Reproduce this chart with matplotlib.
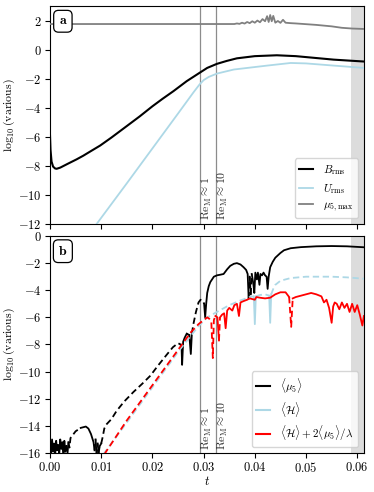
import numpy as np
import matplotlib
matplotlib.use("Agg")
import matplotlib.pyplot as plt

plt.rcParams['font.family'] = 'serif'
plt.rcParams['font.serif'] = ['cmr10', 'DejaVu Serif']
plt.rcParams['mathtext.fontset'] = 'cm'
plt.rcParams['axes.formatter.use_mathtext'] = True
plt.rcParams['axes.unicode_minus'] = True
plt.rcParams['font.size'] = 9

# ---------------- Panel a data ----------------
t_B = [0.0, 0.0001, 0.0003, 0.0006, 0.0010, 0.0013, 0.0020, 0.0035, 0.0052, 0.0065, 0.0080,
       0.0098, 0.0120, 0.0150, 0.0175, 0.0200, 0.0220, 0.0241, 0.0267, 0.0292, 0.0307,
       0.0326, 0.0345, 0.0365, 0.0400, 0.0443, 0.0480, 0.0520, 0.0554, 0.0590, 0.0613]
logB = [-5.9, -6.9, -7.7, -8.05, -8.18, -8.2, -8.12, -7.85, -7.55, -7.3, -6.98,
        -6.6, -6.05, -5.26, -4.6, -3.9, -3.38, -2.86, -2.17, -1.6, -1.26,
        -0.98, -0.78, -0.6, -0.45, -0.39, -0.45, -0.58, -0.69, -0.77, -0.82]

t_U = [0.0091, 0.0150, 0.0200, 0.0250, 0.0280, 0.0292, 0.0300, 0.0310, 0.0326,
       0.0359, 0.0424, 0.0470, 0.0500, 0.0554, 0.0613]
logU = [-12.0, -9.2, -6.8, -4.4, -2.95, -2.4, -2.1, -1.88, -1.65,
        -1.37, -1.1, -0.92, -0.95, -1.1, -1.26]

t_M = [0.0, 0.0360, 0.0365, 0.0370, 0.0375, 0.0380, 0.0385, 0.0390, 0.0395, 0.0400,
       0.0405, 0.0410, 0.0415, 0.0420, 0.0424, 0.0427, 0.0430, 0.0433, 0.0436, 0.0440,
       0.0445, 0.0450, 0.0455, 0.0460, 0.0470, 0.0480, 0.0500, 0.0520, 0.0550,
       0.0570, 0.0590, 0.0613]
logM = [1.76, 1.76, 1.80, 1.77, 1.85, 1.79, 1.90, 1.82, 1.95, 1.85,
        2.00, 1.88, 2.10, 1.95, 2.30, 1.90, 2.38, 1.95, 2.32, 1.85,
        1.97, 1.84, 2.05, 1.85, 1.82, 1.80, 1.75, 1.70, 1.60,
        1.50, 1.45, 1.42]

# ---------------- Panel b data (log10|x|, sign) ----------------
t_mu5 = [0.0, 0.0002, 0.0004, 0.0006, 0.0008, 0.0010, 0.0012, 0.0014, 0.0016, 0.0018,
         0.0020, 0.0022, 0.0024, 0.0026, 0.0028, 0.0030, 0.0032, 0.0034, 0.0036, 0.0038,
         0.0040, 0.0042, 0.0050, 0.0060, 0.0070, 0.0075, 0.0080, 0.0085, 0.0087, 0.0089,
         0.0091, 0.0093, 0.0095, 0.0097, 0.0100, 0.0103, 0.0106, 0.0110, 0.0120, 0.0130,
         0.0145, 0.0163, 0.0180, 0.0196, 0.0210, 0.0228, 0.0240, 0.0250, 0.0255, 0.0257,
         0.0258, 0.0260, 0.0263, 0.0267, 0.0272, 0.0275, 0.0277, 0.0280, 0.0285, 0.0290,
         0.0294, 0.0298, 0.0301, 0.0303, 0.0305, 0.0307, 0.0310, 0.0313, 0.0320, 0.0326,
         0.0333, 0.0339, 0.0346, 0.0352, 0.0359, 0.0365, 0.0372, 0.0378, 0.0383, 0.0386,
         0.0388, 0.0390, 0.0392, 0.0394, 0.0397, 0.0399, 0.0401, 0.0404, 0.0406, 0.0409,
         0.0411, 0.0414, 0.0417, 0.0420, 0.0423, 0.0425, 0.0427, 0.0430, 0.0435, 0.0440,
         0.0450, 0.0457, 0.0470, 0.0490, 0.0520, 0.0550, 0.0580, 0.0613]
log_mu5 = [-15.2, -16.1, -15.0, -15.9, -15.3, -16.2, -15.1, -15.8, -15.4, -16.1,
           -15.0, -15.7, -15.2, -16.2, -15.1, -15.9, -15.3, -16.1, -15.2, -15.6,
           -14.9, -14.8, -14.4, -14.15, -14.05, -14.2, -14.6, -15.2, -15.8, -15.0,
           -16.2, -15.3, -16.0, -15.5, -15.3, -14.8, -14.2, -13.9, -13.5, -12.9,
           -12.2, -11.5, -10.9, -10.3, -9.6, -8.75, -8.2, -7.9, -8.0, -8.3,
           -9.5, -7.8, -7.5, -7.2, -7.3, -8.7, -7.2, -6.5, -5.6, -4.9,
           -4.7, -4.75, -5.0, -6.0, -5.0, -4.2, -3.7, -3.4, -3.0, -2.9,
           -2.85, -2.8, -2.45, -2.2, -2.05, -2.0, -2.1, -2.3, -2.5, -2.8,
           -4.6, -3.0, -4.3, -2.8, -3.5, -4.2, -2.7, -3.2, -2.7, -3.6,
           -2.8, -2.9, -2.7, -2.9, -3.0, -3.9, -3.0, -2.3, -1.9, -1.6,
           -1.25, -1.05, -0.9, -0.82, -0.76, -0.74, -0.76, -0.83]
sign_mu5 = [1, 1, 1, 1, 1, 1, 1, 1, 1, 1,
            1, 1, 1, 1, 1, -1, -1, 1, -1, -1,
            -1, -1, -1, 1, 1, 1, 1, 1, -1, 1,
            -1, 1, -1, 1, -1, -1, -1, -1, -1, -1,
            -1, -1, -1, -1, -1, -1, -1, -1, -1, 1,
            1, 1, 1, -1, 1, 1, -1, -1, -1, -1,
            -1, -1, 1, 1, 1, 1, 1, 1, 1, 1,
            1, 1, 1, 1, 1, 1, 1, 1, 1, 1,
            -1, 1, -1, 1, 1, 1, 1, 1, 1, 1,
            1, 1, 1, 1, 1, 1, 1, 1, 1, 1,
            1, 1, 1, 1, 1, 1, 1, 1]

t_H = [0.0104, 0.0150, 0.0200, 0.0250, 0.0275, 0.0290, 0.0307, 0.0326, 0.0350, 0.0372,
       0.0390, 0.0398, 0.0400, 0.0402, 0.0410, 0.0420, 0.0428, 0.0430, 0.0432, 0.0436,
       0.0440, 0.0450, 0.0470, 0.0500, 0.0550, 0.0580, 0.0613]
log_H = [-16.1, -13.75, -11.15, -8.55, -7.35, -6.65, -6.0, -5.6, -5.1, -4.75,
         -4.5, -4.45, -6.5, -4.45, -4.35, -4.3, -4.4, -6.4, -4.3, -3.9,
         -3.6, -3.3, -3.1, -3.0, -3.0, -3.05, -3.15]
sign_H = [-1, -1, -1, -1, -1, -1, -1, -1, -1, -1,
          -1, 1, 1, -1, -1, -1, 1, 1, -1, -1,
          -1, -1, -1, -1, -1, -1, -1]

t_R = [0.0106, 0.0150, 0.0200, 0.0250, 0.0275, 0.0290, 0.0300, 0.0307, 0.0311, 0.0315,
       0.0318, 0.0320, 0.0323, 0.0327, 0.0330, 0.0332, 0.0336, 0.0340, 0.0343, 0.0346,
       0.0350, 0.0356, 0.0360, 0.0365, 0.0369, 0.0372, 0.0378, 0.0385, 0.0390, 0.0395,
       0.0400, 0.0403, 0.0410, 0.0420, 0.0430, 0.0440, 0.0450, 0.0460, 0.0467, 0.0471,
       0.0474, 0.0480, 0.0490, 0.0500, 0.0510, 0.0520, 0.0530, 0.0535, 0.0540, 0.0545,
       0.0550, 0.0553, 0.0556, 0.0560, 0.0565, 0.0570, 0.0575, 0.0580, 0.0585, 0.0590,
       0.0595, 0.0600, 0.0605, 0.0610, 0.0613]
log_R = [-16.1, -13.6, -11.0, -8.4, -7.1, -6.5, -6.2, -6.0, -6.1, -6.3,
         -9.0, -6.2, -5.9, -6.0, -7.7, -6.0, -5.8, -5.7, -6.8, -5.5,
         -5.3, -5.5, -5.1, -5.0, -5.9, -4.9, -4.8, -4.7, -4.6, -4.65,
         -4.7, -4.5, -4.55, -4.6, -4.55, -4.3, -4.15, -4.15, -4.5, -6.7,
         -4.6, -4.5, -4.4, -4.3, -4.2, -4.3, -4.45, -4.9, -4.7, -5.3,
         -6.4, -5.2, -4.9, -5.0, -5.4, -4.9, -5.3, -5.0, -5.6, -5.0,
         -5.6, -5.1, -5.8, -6.6, -5.9]
sign_R = [-1, -1, -1, -1, -1, -1, -1, -1, -1, -1,
          -1, -1, 1, 1, -1, 1, 1, 1, 1, 1,
          1, 1, 1, 1, 1, 1, 1, 1, 1, 1,
          1, 1, 1, 1, 1, 1, 1, 1, -1, -1,
          1, 1, 1, 1, 1, 1, 1, 1, 1, 1,
          1, 1, 1, 1, 1, 1, 1, 1, 1, 1,
          1, 1, 1, 1, 1]

t_ReM = [0.0292, 0.0324]
ReM_labels = [r'$\mathrm{Re}_\mathrm{M}\approx 1$', r'$\mathrm{Re}_\mathrm{M}\approx 10$']
t_shade = 0.0587
xticks = [0.0, 0.01, 0.02, 0.03, 0.04, 0.05, 0.06]


def signed_plot(ax, t, v, s, color, lw):
    t = np.asarray(t); v = np.asarray(v); s = np.asarray(s)
    n = len(t)
    i = 0
    while i < n - 1:
        j = i
        while j + 1 < n - 1 and s[j + 1] == s[i]:
            j += 1
        seg = slice(i, j + 2)
        ls = '-' if s[i] > 0 else (0, (3.5, 2))
        ax.plot(t[seg], v[seg], color=color, lw=lw, ls=ls, zorder=3)
        i = j + 1


fig = plt.figure(figsize=(3.74, 4.92), dpi=100)
ax1 = fig.add_axes([0.1337, 0.5447, 0.8393, 0.4431])
ax2 = fig.add_axes([0.1337, 0.0793, 0.8393, 0.4410])

for ax in (ax1, ax2):
    ax.axvspan(t_shade, 0.0613, color='#dcdcdc', lw=0, zorder=0)
    for tv in t_ReM:
        ax.axvline(tv, color='#8c8c8c', lw=0.9, zorder=1)
    ax.set_xlim(0, 0.0613)
    ax.set_xticks(xticks)
    ax.set_ylabel(r'$\log_{10}(\mathrm{various})$', fontsize=8.5)
    ax.yaxis.set_label_coords(-0.105, 0.5)
    ax.tick_params(labelsize=9, length=3.5, pad=2.5)

leg_kw = dict(loc='lower right', fontsize=8, handlelength=1.3, handletextpad=0.9,
              borderaxespad=0.5, labelspacing=0.45)

# Panel a
ax1.plot(t_B, logB, color='black', lw=1.5, label=r'$B_\mathrm{rms}$', zorder=3)
ax1.plot(t_U, logU, color='lightblue', lw=1.3, label=r'$U_\mathrm{rms}$', zorder=3)
ax1.plot(t_M, logM, color='gray', lw=1.3, label=r'$\mu_{5,\mathrm{max}}$', zorder=3)
ax1.set_ylim(-12, 3)
ax1.set_yticks([-12, -10, -8, -6, -4, -2, 0, 2])
ax1.tick_params(labelbottom=False)
ax1.legend(**leg_kw)
ax1.text(0.041, 0.93, r'$\mathbf{a}$', transform=ax1.transAxes, fontsize=10,
         ha='center', va='center', zorder=5,
         bbox=dict(boxstyle='round,pad=0.35', fc='white', ec='black', lw=0.9))
for tv, lab in zip(t_ReM, ReM_labels):
    ax1.text(tv + 0.00005, -11.75, lab, rotation=90, ha='left', va='bottom',
             fontsize=8.5, color='#333333')

# Panel b
signed_plot(ax2, t_mu5, log_mu5, sign_mu5, 'black', 1.3)
signed_plot(ax2, t_H, log_H, sign_H, 'lightblue', 1.3)
signed_plot(ax2, t_R, log_R, sign_R, 'red', 1.3)
ax2.plot([], [], color='black', lw=1.5, label=r'$\langle\mu_5\rangle$')
ax2.plot([], [], color='lightblue', lw=1.5, label=r'$\langle\mathcal{H}\rangle$')
ax2.plot([], [], color='red', lw=1.5,
         label=r'$\langle\mathcal{H}\rangle + 2\langle\mu_5\rangle/\lambda$')
ax2.set_ylim(-16, 0)
ax2.set_yticks([-16, -14, -12, -10, -8, -6, -4, -2, 0])
ax2.set_xlabel(r'$t$', fontsize=9, labelpad=0)
ax2.legend(**leg_kw)
ax2.text(0.041, 0.93, r'$\mathbf{b}$', transform=ax2.transAxes, fontsize=10,
         ha='center', va='center', zorder=5,
         bbox=dict(boxstyle='round,pad=0.35', fc='white', ec='black', lw=0.9))
for tv, lab in zip(t_ReM, ReM_labels):
    ax2.text(tv + 0.00005, -15.8, lab, rotation=90, ha='left', va='bottom',
             fontsize=8.5, color='#333333')

fig.savefig('out.png', dpi=100)
